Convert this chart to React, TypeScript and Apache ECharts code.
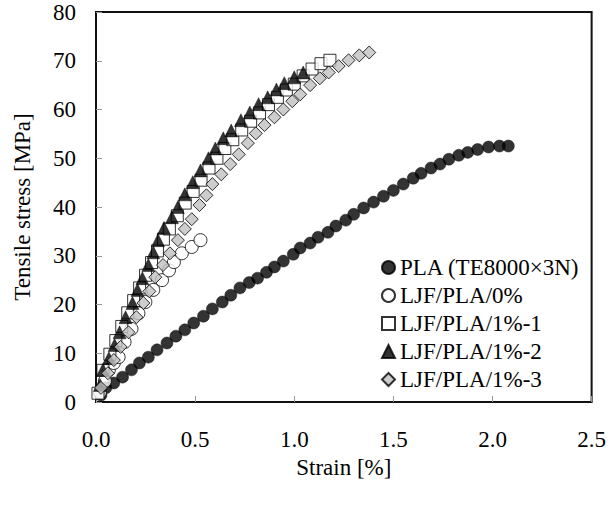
import React, { useEffect, useRef } from "react";
import * as echarts from "echarts";

// Tick values
const xTicks = [0, 0.5, 1.0, 1.5, 2.0, 2.5];
const yTicks = [0, 10, 20, 30, 40, 50, 60, 70, 80];

const seriesNames = [
  "PLA (TE8000×3N)",
  "LJF/PLA/0%",
  "LJF/PLA/1%-1",
  "LJF/PLA/1%-2",
  "LJF/PLA/1%-3",
];

// PLA (TE8000×3N)
const plaStrain = [0.025, 0.05, 0.09, 0.134, 0.179, 0.219, 0.264, 0.308, 0.358, 0.403, 0.448, 0.493, 0.542, 0.587, 0.637, 0.68, 0.726, 0.773, 0.815, 0.86, 0.9, 0.945, 0.995, 1.03, 1.08, 1.12, 1.17, 1.21, 1.26, 1.3, 1.35, 1.4, 1.45, 1.5, 1.55, 1.6, 1.64, 1.69, 1.735, 1.78, 1.83, 1.875, 1.925, 1.98, 2.035, 2.08];
const plaStress = [1.4, 2.9, 3.9, 5.1, 6.6, 8.0, 9.2, 10.7, 12.1, 13.5, 14.8, 16.2, 17.6, 19.1, 20.5, 21.9, 23.4, 24.5, 25.4, 26.6, 27.7, 28.9, 30.3, 31.6, 32.6, 33.8, 34.8, 36.1, 37.3, 38.5, 39.8, 41.0, 42.2, 43.4, 44.7, 45.9, 46.9, 48.0, 48.8, 49.8, 50.6, 51.2, 51.8, 52.3, 52.5, 52.5];

// LJF/PLA/0%
const ljf0Strain = [0.02, 0.045, 0.065, 0.09, 0.114, 0.144, 0.179, 0.214, 0.249, 0.289, 0.333, 0.368, 0.393, 0.433, 0.483, 0.527];
const ljf0Stress = [2.0, 4.3, 6.6, 8.0, 9.2, 12.3, 15.0, 18.2, 20.5, 23.0, 25.0, 27.0, 28.7, 30.5, 31.8, 33.2];

// LJF/PLA/1%-1
const ljf1Strain = [0.01, 0.035, 0.07, 0.1, 0.13, 0.16, 0.19, 0.22, 0.25, 0.28, 0.31, 0.34, 0.37, 0.41, 0.45, 0.49, 0.53, 0.57, 0.61, 0.65, 0.69, 0.735, 0.78, 0.825, 0.87, 0.915, 0.96, 1.0, 1.045, 1.09, 1.135, 1.18];
const ljf1Stress = [1.8, 6.5, 9.8, 12.6, 15.5, 18.3, 20.8, 23.4, 26.0, 28.6, 31.0, 33.4, 35.5, 38.2, 40.8, 43.2, 45.5, 48.0, 50.0, 52.0, 53.8, 55.8, 57.6, 59.3, 61.0, 62.5, 64.0, 65.2, 66.9, 68.3, 69.4, 70.1];

// LJF/PLA/1%-2
const ljf2Strain = [0.02, 0.035, 0.065, 0.094, 0.119, 0.149, 0.184, 0.209, 0.234, 0.264, 0.289, 0.313, 0.343, 0.383, 0.413, 0.448, 0.488, 0.527, 0.567, 0.602, 0.642, 0.682, 0.731, 0.776, 0.82, 0.866, 0.91, 0.95, 1.0, 1.045];
const ljf2Stress = [3.5, 6.6, 9.0, 11.7, 14.3, 17.4, 20.3, 23.0, 25.4, 28.1, 30.7, 33.2, 35.7, 37.9, 40.0, 42.6, 45.1, 47.5, 50.0, 52.0, 54.1, 55.7, 57.8, 59.4, 61.1, 62.5, 64.1, 65.4, 66.6, 67.6];

// LJF/PLA/1%-3
const ljf3Strain = [0.025, 0.06, 0.09, 0.124, 0.164, 0.204, 0.239, 0.269, 0.299, 0.338, 0.373, 0.413, 0.448, 0.483, 0.522, 0.557, 0.587, 0.632, 0.677, 0.72, 0.766, 0.806, 0.85, 0.9, 0.945, 0.99, 1.03, 1.08, 1.129, 1.174, 1.224, 1.274, 1.328, 1.378];
const ljf3Stress = [2.9, 5.9, 8.6, 11.3, 14.3, 17.4, 20.3, 22.7, 25.6, 28.1, 30.5, 33.2, 35.5, 37.5, 40.4, 42.4, 44.7, 46.7, 48.8, 50.8, 53.1, 55.1, 56.8, 58.4, 60.0, 61.7, 63.1, 65.0, 66.4, 67.6, 68.9, 70.1, 71.1, 71.7];

const zip = (xs: number[], ys: number[]) => xs.map((x, i) => [x, ys[i]]);

const FONT = "Liberation Serif";

export default function App() {
  const ref = useRef<HTMLDivElement>(null);
  useEffect(() => {
    if (!ref.current) return;
    const chart = echarts.init(ref.current, undefined, { renderer: "svg" });
    const stroke = { borderColor: "#000", borderWidth: 1 };
    chart.setOption({
      animation: false,
      backgroundColor: "#fff",
      textStyle: { fontFamily: FONT },
      grid: {
        left: 96,
        right: 11,
        top: 12,
        bottom: 106,
        show: true,
        borderColor: "#111",
        borderWidth: 2,
        backgroundColor: "transparent",
      },
      legend: {
        orient: "vertical",
        left: 376,
        top: 251,
        itemWidth: 13,
        itemHeight: 13,
        itemGap: 5,
        textStyle: { fontFamily: FONT, fontSize: 23, color: "#000" },
        data: seriesNames,
      },
      xAxis: {
        type: "value",
        min: xTicks[0],
        max: xTicks[xTicks.length - 1],
        interval: 0.5,
        name: "Strain [%]",
        nameLocation: "middle",
        nameGap: 50,
        nameTextStyle: { fontFamily: FONT, fontSize: 23, color: "#000" },
        axisLine: { show: false },
        axisTick: { show: true, inside: true, length: 6, lineStyle: { color: "#999" } },
        axisLabel: {
          fontFamily: FONT,
          fontSize: 23,
          color: "#000",
          margin: 26,
          formatter: (v: number) => v.toFixed(1),
        },
        splitLine: { show: false },
      },
      yAxis: {
        type: "value",
        min: yTicks[0],
        max: yTicks[yTicks.length - 1],
        interval: 10,
        name: "Tensile stress [MPa]",
        nameLocation: "middle",
        nameGap: 62,
        nameTextStyle: { fontFamily: FONT, fontSize: 23, color: "#000" },
        axisLine: { show: false },
        axisTick: { show: true, inside: true, length: 6, lineStyle: { color: "#999" } },
        axisLabel: { fontFamily: FONT, fontSize: 23, color: "#000", margin: 20 },
        splitLine: { show: false },
      },
      series: [
        {
          name: seriesNames[0],
          type: "scatter",
          symbol: "circle",
          symbolSize: 12,
          itemStyle: { color: "#000", borderColor: "#000", borderWidth: 0.5 },
          data: zip(plaStrain, plaStress),
        },
        {
          name: seriesNames[1],
          type: "scatter",
          symbol: "circle",
          symbolSize: 13,
          itemStyle: { color: "#fff", ...stroke },
          data: zip(ljf0Strain, ljf0Stress),
        },
        {
          name: seriesNames[2],
          type: "scatter",
          symbol: "rect",
          symbolSize: 12,
          itemStyle: { color: "#fff", ...stroke },
          data: zip(ljf1Strain, ljf1Stress),
        },
        {
          name: seriesNames[3],
          type: "scatter",
          symbol: "triangle",
          symbolSize: 13,
          itemStyle: { color: "#000", borderColor: "#000", borderWidth: 0.5 },
          data: zip(ljf2Strain, ljf2Stress),
        },
        {
          name: seriesNames[4],
          type: "scatter",
          symbol: "diamond",
          symbolSize: 13,
          itemStyle: { color: "#c0c0c0", ...stroke },
          data: zip(ljf3Strain, ljf3Stress),
        },
      ],
    });
    return () => chart.dispose();
  }, []);
  return (
    <div
      ref={ref}
      style={{ position: "fixed", left: 0, top: 0, width: 609, height: 508 }}
    />
  );
}
